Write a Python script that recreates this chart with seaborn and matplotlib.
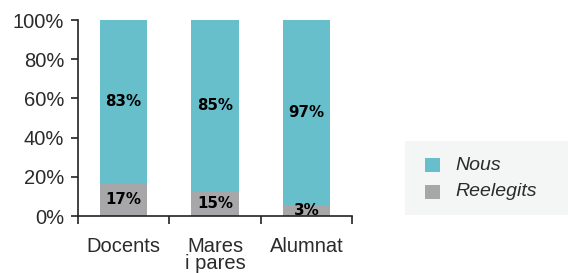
import matplotlib
matplotlib.use("Agg")
import matplotlib.pyplot as plt
import seaborn as sns
import pandas as pd
from matplotlib.patches import Rectangle

categories = ["Docents", "Mares\ni pares", "Alumnat"]
nous_labels = ["83%", "85%", "97%"]
reel_labels = ["17%", "15%", "3%"]
reel_heights = [16.8, 12.8, 5.6]   # drawn heights of the grey segments as read
total = [100, 100, 100]
series_names = ["Nous", "Reelegits"]

teal = "#66bfca"
grey = "#a7a7a9"
text_col = "#2b2b2b"

sns.set_theme(style="white")
plt.rcParams["font.family"] = ["Liberation Sans", "DejaVu Sans"]

W, H = 568, 273
fig = plt.figure(figsize=(W / 100, H / 100), dpi=100)
ax = fig.add_axes([78 / W, (H - 216) / H, (352 - 78) / W, 196 / H])

df = pd.DataFrame({"cat": categories, "total": total, "reel": reel_heights})
sns.barplot(data=df, x="cat", y="total", color=teal, width=0.52, saturation=1,
            linewidth=0, edgecolor="none", ax=ax)
sns.barplot(data=df, x="cat", y="reel", color=grey, width=0.52, saturation=1,
            linewidth=0, edgecolor="none", ax=ax)

for i, (r, t) in enumerate(zip(reel_heights, total)):
    ax.text(i, r + (t - r) / 2, nous_labels[i], ha="center", va="center",
            fontsize=10.8, fontweight="bold", color="black", family="DejaVu Sans")
    ax.text(i, r / 2, reel_labels[i], ha="center", va="center",
            fontsize=10.8, fontweight="bold", color="black", family="DejaVu Sans")

ax.set_xlim(-0.5, 2.5)
ax.set_ylim(0, 100)
ax.set_xlabel("")
ax.set_ylabel("")
ax.set_yticks([0, 20, 40, 60, 80, 100])
ax.set_yticklabels(["0%", "20%", "40%", "60%", "80%", "100%"])
ax.set_xticks([0, 1, 2])
ax.set_xticklabels(categories)
ax.set_xticks([-0.5, 0.5, 1.5, 2.5], minor=True)
ax.tick_params(axis="x", which="major", length=0, pad=15, labelsize=14.5, labelcolor=text_col)
ax.tick_params(axis="x", which="minor", length=6, width=1.2, color="#222222", direction="out", bottom=True)
ax.tick_params(axis="y", which="major", length=5, width=1.2, color="#222222", direction="out",
               left=True, pad=5, labelsize=14.5, labelcolor=text_col)
for lab in ax.get_xticklabels():
    lab.set_linespacing(0.9)
    lab.set_verticalalignment("top")

for s in ["top", "right"]:
    ax.spines[s].set_visible(False)
for s in ["left", "bottom"]:
    ax.spines[s].set_color("#222222")
    ax.spines[s].set_linewidth(1.2)
ax.set_axisbelow(False)

# legend box
lax = fig.add_axes([0, 0, 1, 1], facecolor="none")
lax.set_xlim(0, W)
lax.set_ylim(H, 0)
lax.axis("off")
lax.add_patch(Rectangle((405, 141), 163, 74, facecolor="#f4f5f5", edgecolor="none"))
for j, (name, col) in enumerate(zip(series_names, [teal, grey])):
    yc = 165 + j * 27
    lax.add_patch(Rectangle((425, yc - 7), 15, 14, facecolor=col, edgecolor="none"))
    lax.text(455, yc, name, ha="left", va="center", fontsize=14, fontstyle="italic", color=text_col)

fig.savefig("out.png", dpi=100)
